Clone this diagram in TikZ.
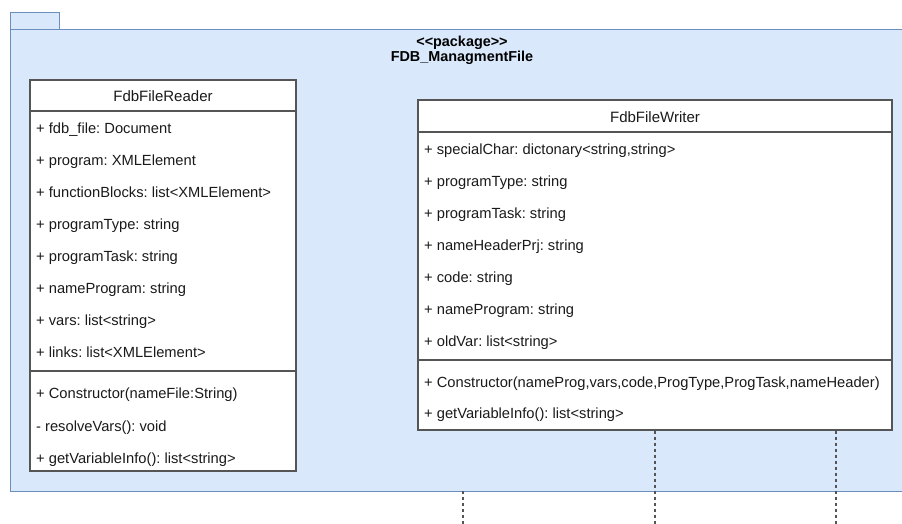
\documentclass[tikz,border=0pt]{standalone}
\usepackage{fontspec}
\setmainfont{Liberation Sans}
\frenchspacing
\usetikzlibrary{shadows}
\definecolor{pkgfill}{HTML}{DAE8FC}
\definecolor{pkgline}{HTML}{6C8EBF}
\definecolor{boxline}{HTML}{555555}
\definecolor{txt}{HTML}{1A1A1A}
\tikzset{
  pkg/.style={draw=pkgline, fill=pkgfill, line width=1pt},
  classbox/.style={draw=boxline, fill=white, line width=1.2pt, inner sep=0pt,
    drop shadow={shadow xshift=1.2pt, shadow yshift=-1.2pt, opacity=0.35, fill=black}},
  sep/.style={draw=boxline, line width=1.2pt},
  member/.style={anchor=base west, inner sep=0pt, font=\fontsize{14.7}{16}\selectfont, text=txt},
  title/.style={anchor=base, inner sep=0pt, font=\fontsize{15}{17}\selectfont, text=txt},
  pkgtitle/.style={anchor=base, inner sep=0pt, font=\bfseries\fontsize{14.4}{16}\selectfont, text=black},
  lifeline/.style={draw=boxline, line width=1.2pt, dash pattern=on 3pt off 3pt}
}
\begin{document}
\begin{tikzpicture}[x=1pt,y=-1pt]
\useasboundingbox (0,0) rectangle (902,524);
\clip (0,0) rectangle (902,524);

% package frame with its tab
\path[pkg] (10,13) rectangle (59,30);
\path[pkg] (10,30) rectangle (915,491);
\coordinate (pkgbot) at (463,491);
\node[pkgtitle] (stereo) at (462,46.5) {<{}<package>{}>};
\node[pkgtitle] (pkgname) at (462,61.5) {FDB\_ManagmentFile};

% class FdbFileReader
\node[classbox, minimum width=266pt, minimum height=391pt] (reader) at (163,275.5) {};
\draw[sep] (30,111) -- (296,111);
\draw[sep] (30,371) -- (296,371);
\node[title] (readerT) at (163,102) {FdbFileReader};
\node[member] (r1) at (36,134) {+ fdb\_file: Document};
\node[member] (r2) at (36,165.5) {+ program: XMLElement};
\node[member] (r3) at (36,197.5) {+ functionBlocks: list<XMLElement>};
\node[member] (r4) at (36,229.5) {+ programType: string};
\node[member] (r5) at (36,261.5) {+ programTask: string};
\node[member] (r6) at (36,293.5) {+ nameProgram: string};
\node[member] (r7) at (36,325.5) {+ vars: list<string>};
\node[member] (r8) at (36,357.5) {+ links: list<XMLElement>};
\node[member] (r9) at (36,398.5) {+ Constructor(nameFile:String)};
\node[member] (r10) at (36,431) {- resolveVars(): void};
\node[member] (r11) at (36,463) {+ getVariableInfo(): list<string>};

% class FdbFileWriter
\node[classbox, minimum width=474pt, minimum height=330pt] (writer) at (655,265) {};
\draw[sep] (418,132) -- (892,132);
\draw[sep] (418,360) -- (892,360);
\node[title] (writerT) at (655,122.5) {FdbFileWriter};
\node[member] (w1) at (424,154.5) {+ specialChar: dictonary<string,string>};
\node[member] (w2) at (424,186.5) {+ programType: string};
\node[member] (w3) at (424,218.5) {+ programTask: string};
\node[member] (w4) at (424,250.5) {+ nameHeaderPrj: string};
\node[member] (w5) at (424,282.5) {+ code: string};
\node[member] (w6) at (424,314.5) {+ nameProgram: string};
\node[member] (w7) at (424,346.5) {+ oldVar: list<string>};
\node[member] (w8) at (424,387) {+ Constructor(nameProg,vars,code,ProgType,ProgTask,nameHeader)};
\node[member] (w9) at (424,418.5) {+ getVariableInfo(): list<string>};

% dashed lines leaving the diagram
\coordinate (e1) at (463,526);
\coordinate (e2) at (655,526);
\coordinate (e3) at (836,526);
\draw[lifeline] (pkgbot) -- (e1);
\draw[lifeline] (writer.south) -- (e2);
\draw[lifeline] (writer.south -| e3) -- (e3);
\end{tikzpicture}
\end{document}
